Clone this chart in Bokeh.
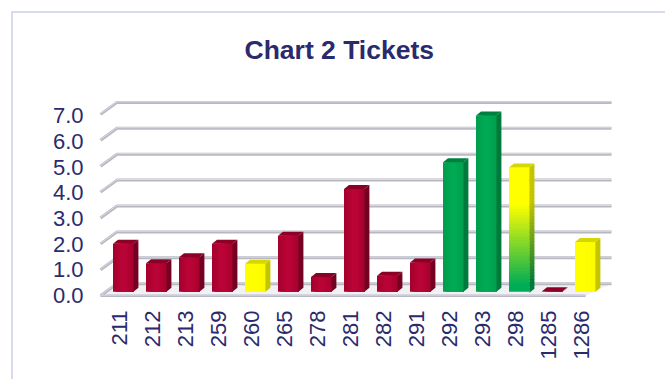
from math import pi

from bokeh.embed import file_html
from bokeh.models import FixedTicker, LinearAxis, Range1d
from bokeh.plotting import figure
from bokeh.resources import INLINE

categories = ["211", "212", "213", "259", "260", "265", "278", "281",
              "282", "291", "292", "293", "298", "1285", "1286"]
values = [1.85, 1.10, 1.33, 1.85, 1.08, 2.16, 0.57, 3.97,
          0.62, 1.13, 5.00, 6.80, 4.80, 0.02, 1.92]
status = ["red", "red", "red", "red", "yellow", "red", "red", "red",
          "red", "red", "green", "green", "blend", "red", "yellow"]
y_ticks = [0, 1, 2, 3, 4, 5, 6, 7]

PALETTE = {
    "red": dict(face=("#a3002c", "#bd0538", "#a8002e"), side="#740022", cap="#8c0026"),
    "green": dict(face=("#009c4c", "#00ad56", "#009e4d"), side="#007a3a", cap="#007f3e"),
    "yellow": dict(face=("#ffff00", "#ffff00", "#fbfb00"), side="#c4c400", cap="#d6d600"),
}

W, H = 665, 379
LEFT, RIGHT, TOP, BOTTOM = 96, 620, 95, 300
PITCH, UNIT = 33.0, 25.9
BAR_X0, BASE_Y = 122.7, 291.2
NAVY = "#2a2a6c"
RULE = "#d8daf4"

x_range = Range1d((LEFT - BAR_X0) / PITCH, (RIGHT - BAR_X0) / PITCH)
y_range = Range1d((BASE_Y - BOTTOM) / UNIT, (BASE_Y - TOP) / UNIT)

p = figure(width=W, height=H, x_range=x_range, y_range=y_range,
           output_backend="svg", toolbar_location=None, tools="",
           min_border_left=LEFT, min_border_right=W - RIGHT,
           min_border_top=TOP, min_border_bottom=H - BOTTOM,
           background_fill_color="white", border_fill_color=None,
           x_axis_location=None, y_axis_location=None)
p.outline_line_color = None
p.grid.visible = False

# Rules along the top and left of the page, painted behind the transparent canvas
p.styles = {
    "background-color": "white",
    "background-image": f"linear-gradient({RULE},{RULE}), linear-gradient({RULE},{RULE})",
    "background-size": "654px 2px, 2px 368px",
    "background-position": "11px 11px, 11px 11px",
    "background-repeat": "no-repeat",
}

# Scales used only to place tick labels: the value labels sit on the front
# edge of the wall, the category labels slightly left of each bar's centre.
LABEL_ZERO, LABEL_UNIT, LABEL_X0 = 295.0, 25.7, 118.7
p.extra_y_ranges = {"front": Range1d((LABEL_ZERO - BOTTOM) / LABEL_UNIT,
                                     (LABEL_ZERO - TOP) / LABEL_UNIT)}
p.extra_x_ranges = {"labels": Range1d((LEFT - LABEL_X0) / PITCH,
                                      (RIGHT - LABEL_X0) / PITCH)}

yaxis = LinearAxis(y_range_name="front", ticker=FixedTicker(ticks=y_ticks))
yaxis.major_label_overrides = {t: f"{t:.1f}" for t in y_ticks}
yaxis.axis_line_color = None
yaxis.major_tick_line_color = None
yaxis.minor_tick_line_color = None
yaxis.major_label_standoff = 7
yaxis.major_label_text_font = "Liberation Sans"
yaxis.major_label_text_font_size = "22px"
yaxis.major_label_text_color = NAVY
p.add_layout(yaxis, "left")

xaxis = LinearAxis(x_range_name="labels",
                   ticker=FixedTicker(ticks=list(range(len(categories)))))
xaxis.major_label_overrides = {i: c for i, c in enumerate(categories)}
xaxis.major_label_orientation = pi / 2
xaxis.axis_line_color = None
xaxis.major_tick_line_color = None
xaxis.minor_tick_line_color = None
xaxis.major_label_standoff = 4
xaxis.major_label_text_font = "Liberation Sans"
xaxis.major_label_text_font_size = "22px"
xaxis.major_label_text_color = NAVY
p.add_layout(xaxis, "below")

p.title.text = "Chart 2 Tickets"
p.title.align = "left"
p.title.offset = 148
p.title.standoff = 62
p.title.text_font = "Liberation Sans"
p.title.text_font_style = "bold"
p.title.text_font_size = "26.5px"
p.title.text_color = NAVY


def px_x(dx):
    return dx / PITCH


def px_y(dy):
    return dy / UNIT


def mix(a, b, t):
    ca = [int(a[i:i + 2], 16) for i in (1, 3, 5)]
    cb = [int(b[i:i + 2], 16) for i in (1, 3, 5)]
    return "#" + "".join(f"{round(u + (w - u) * t):02x}" for u, w in zip(ca, cb))


# Floor and walls of the 3D box
WALL_FRONT = px_x(100 - BAR_X0)
WALL_BACK = px_x(116.5 - BAR_X0)
WALL_END = px_x(611 - BAR_X0)
FLOOR_END = px_x(585 - BAR_X0)
BACK_RISE = px_y(8)
FRONT_DROP = px_y(-4)

p.patch([WALL_FRONT, WALL_BACK, WALL_END, FLOOR_END],
        [FRONT_DROP, BACK_RISE, BACK_RISE, FRONT_DROP],
        fill_color="#f1f1f3", line_color=None)

for t in y_ticks:
    xs = [WALL_FRONT, WALL_BACK, WALL_END]
    ys = [t + FRONT_DROP, t + BACK_RISE, t + BACK_RISE]
    p.line(xs, ys, line_color="#b8b8c0", line_width=3, line_join="round")
    p.line(xs, [y + px_y(0.6) for y in ys], line_color="#d8d8ea", line_width=1)

p.line([WALL_FRONT, FLOOR_END], [FRONT_DROP, FRONT_DROP], line_color="#b8b8c4", line_width=2.5)
p.line([WALL_FRONT, FLOOR_END], [FRONT_DROP + px_y(0.6)] * 2, line_color="#dcd8ec", line_width=1)

# Bars: shaded front face built from overlapping layers, plus a side face and a top cap
HALF = px_x(10.2)
DX, DY = px_x(5), px_y(4)
STRIPS = 8
LAYERS = 40

for i, (v, kind) in enumerate(zip(values, status)):
    x0, x1 = i - HALF, i + HALF
    if kind == "blend":
        # Vertical blend: yellow at the top fading to green at the base
        yellow, green = PALETTE["yellow"], PALETTE["green"]
        for k in range(LAYERS):
            b, t = v * k / LAYERS, v * (k + 1) / LAYERS
            f = min(1.0, max(0.0, (b / v - 0.05) / 0.65))
            face = mix(green["face"][1], yellow["face"][1], f)
            side = mix(green["side"], yellow["side"], f)
            # layers overlap by a pixel so no seams show between them
            p.quad(left=x0, right=x1, bottom=0 if k == 0 else b - px_y(1), top=t,
                   fill_color=face, line_color=None)
            p.patch([x1, x1 + DX, x1 + DX, x1], [b - px_y(1), b - px_y(1) + DY, t + DY, t],
                    fill_color=side, line_color=None)
        cap = yellow["cap"]
    else:
        colours = PALETTE[kind]
        left_c, mid_c, right_c = colours["face"]
        for k in range(STRIPS):
            a = x0 + (x1 - x0) * k / STRIPS
            t = (k + 0.5) / STRIPS
            col = mix(left_c, mid_c, t * 2) if t < 0.5 else mix(mid_c, right_c, t * 2 - 1)
            # each strip runs to the bar's right edge and is overpainted by the next
            p.quad(left=a, right=x1, bottom=0, top=v, fill_color=col, line_color=None)
        p.patch([x1, x1 + DX, x1 + DX, x1], [0, DY, v + DY, v],
                fill_color=colours["side"], line_color=None)
        cap = colours["cap"]
    p.patch([x0, x0 + DX, x1 + DX, x1], [v, v + DY, v + DY, v],
            fill_color=cap, line_color=None)

open("out.html", "w").write(file_html(p, INLINE))
